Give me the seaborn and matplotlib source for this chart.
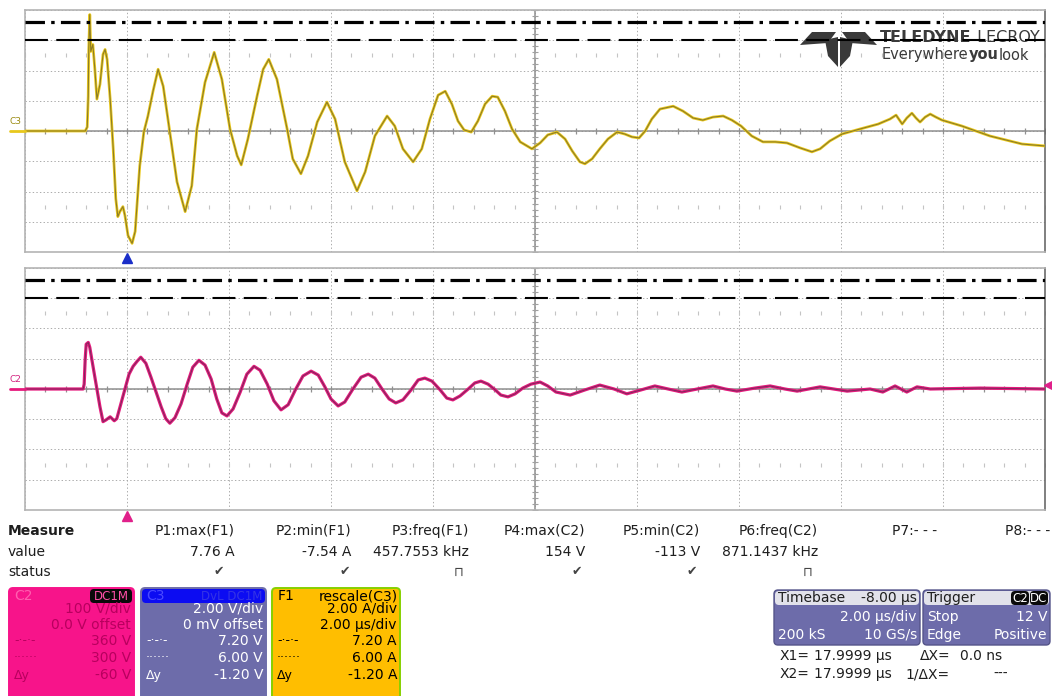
import matplotlib
matplotlib.use("Agg")
import matplotlib.pyplot as plt
import matplotlib.transforms as mtransforms
from matplotlib.patches import FancyBboxPatch, Polygon
import numpy as np
import seaborn as sns

# F1 = rescale(C3): current, time in us, amps
f1_time = [-2.00, -0.82, -0.78, -0.76, -0.75, -0.73, -0.71, -0.67, -0.63, -0.59,
           -0.53, -0.47, -0.43, -0.39, -0.33, -0.27, -0.22, -0.18, -0.14, -0.08,
           -0.04, 0.02, 0.10, 0.16, 0.25, 0.33, 0.41, 0.51, 0.61, 0.71,
           0.84, 0.98, 1.14, 1.27, 1.37, 1.53, 1.71, 1.86, 2.02, 2.16,
           2.24, 2.37, 2.55, 2.67, 2.78, 2.94, 3.14, 3.25, 3.41, 3.55,
           3.73, 3.92, 4.08, 4.27, 4.51, 4.67, 4.86, 5.10, 5.25, 5.41,
           5.61, 5.78, 5.94, 6.10, 6.24, 6.37, 6.49, 6.61, 6.75, 6.88,
           7.02, 7.16, 7.27, 7.41, 7.55, 7.71, 7.94, 8.10, 8.25, 8.43,
           8.59, 8.73, 8.88, 8.98, 9.12, 9.27, 9.43, 9.61, 9.76, 9.90,
           10.04, 10.16, 10.29, 10.45, 10.71, 10.90, 11.10, 11.29, 11.49, 11.69,
           11.86, 12.04, 12.25, 12.47, 12.71, 12.94, 13.20, 13.43, 13.59, 13.78,
           14.02, 14.37, 14.73, 14.96, 15.08, 15.20, 15.29, 15.39, 15.47, 15.55,
           15.65, 15.75, 15.86, 15.98, 16.37, 16.92, 17.55, 18.00]
f1_amps = [0.00, 0.00, 0.26, 2.30, 5.39, 7.70, 5.26, 5.72, 4.08, 2.11,
           3.09, 5.07, 5.39, 4.74, 2.11, -1.18, -4.47, -5.66, -5.33, -5.00,
           -5.59, -6.91, -7.43, -6.64, -2.30, -0.07, 0.99, 2.63, 4.08, 2.96,
           -0.07, -3.36, -5.33, -3.62, 0.13, 3.22, 5.20, 3.42, 0.13, -1.64,
           -2.24, -0.53, 2.30, 4.08, 4.74, 3.42, 0.13, -1.84, -2.83, -1.64,
           0.59, 1.91, 0.79, -2.04, -3.95, -2.70, -0.33, 0.99, 0.33, -1.18,
           -2.04, -1.18, 0.79, 2.37, 2.63, 1.78, 0.66, 0.07, -0.07, 0.66,
           1.78, 2.30, 2.24, 1.32, 0.13, -0.72, -1.18, -0.79, -0.26, -0.07,
           -0.53, -1.32, -2.04, -2.17, -1.84, -1.18, -0.53, -0.07, -0.20, -0.39,
           -0.46, 0.00, 0.79, 1.45, 1.64, 1.32, 0.86, 0.72, 0.92, 0.99,
           0.72, 0.33, -0.33, -0.72, -0.72, -0.79, -1.12, -1.38, -1.18, -0.66,
           -0.20, 0.13, 0.46, 0.79, 1.05, 0.46, 0.86, 1.18, 0.86, 0.59,
           0.92, 1.12, 0.92, 0.72, 0.33, -0.33, -0.86, -0.99]

# C2: voltage, time in us, volts
c2_time = [-2.00, -0.86, -0.84, -0.82, -0.80, -0.76, -0.73, -0.69, -0.63, -0.59,
           -0.53, -0.47, -0.41, -0.33, -0.25, -0.20, -0.12, -0.04, 0.04, 0.12,
           0.20, 0.27, 0.37, 0.47, 0.57, 0.67, 0.76, 0.84, 0.94, 1.06,
           1.18, 1.29, 1.41, 1.53, 1.65, 1.76, 1.86, 1.96, 2.08, 2.22,
           2.35, 2.49, 2.61, 2.75, 2.88, 3.02, 3.16, 3.31, 3.45, 3.61,
           3.75, 3.88, 4.00, 4.14, 4.27, 4.43, 4.59, 4.73, 4.86, 5.00,
           5.14, 5.27, 5.41, 5.57, 5.71, 5.84, 5.98, 6.14, 6.27, 6.39,
           6.53, 6.69, 6.82, 6.94, 7.08, 7.22, 7.33, 7.47, 7.61, 7.76,
           7.92, 8.10, 8.25, 8.41, 8.69, 8.98, 9.27, 9.55, 9.80, 10.08,
           10.35, 10.61, 10.88, 11.18, 11.49, 11.73, 11.96, 12.31, 12.61, 12.90,
           13.14, 13.59, 14.12, 14.57, 14.82, 15.06, 15.29, 15.49, 15.75, 16.73, 18.00]
c2_volts = [0, 0, 16, 98, 148, 154, 138, 98, 39, 0,
            -59, -108, -102, -92, -105, -98, -49, 0, 49, 75,
            92, 105, 85, 39, -10, -59, -98, -113, -95, -49,
            16, 72, 95, 79, 33, -33, -79, -89, -66, -10,
            49, 75, 62, 16, -39, -69, -52, 0, 43, 59,
            46, 7, -33, -56, -43, 0, 39, 49, 36, 0,
            -33, -46, -36, -3, 30, 36, 26, -3, -30, -36,
            -23, 0, 20, 26, 16, -3, -20, -26, -16, 3,
            16, 23, 10, -10, -20, -3, 13, 0, -16, -3,
            10, 0, -10, 0, 10, 0, -7, 3, 10, 0,
            -7, 7, -7, 0, -10, 10, -10, 7, 0, 3, 0]

f1_cursors = [7.20, 6.00]     # dash-dot, dashed
c2_cursors = [360, 300]
trigger_time = 0.0
trigger_level = 12

meas_names = ["P1:max(F1)", "P2:min(F1)", "P3:freq(F1)", "P4:max(C2)",
              "P5:min(C2)", "P6:freq(C2)", "P7:- - -", "P8:- - -"]
meas_values = ["7.76 A", "-7.54 A", "457.7553 kHz", "154 V",
               "-113 V", "871.1437 kHz", "", ""]
meas_status = ["\u2714", "\u2714", "\u2293", "\u2714", "\u2714", "\u2293", "", ""]

c2_rows = ["100 V/div", "0.0 V offset", "360 V", "300 V", "-60 V"]
c3_rows = ["2.00 V/div", "0 mV offset", "7.20 V", "6.00 V", "-1.20 V"]
f1_rows = ["2.00 A/div", "2.00 \u00b5s/div", "7.20 A", "6.00 A", "-1.20 A"]
row_tags = ["", "", "-\u00b7-\u00b7-", "\u00b7\u00b7\u00b7\u00b7\u00b7\u00b7", "\u0394y"]

sns.set_style("white")
plt.rcParams["font.family"] = ["DejaVu Sans"]
plt.rcParams["lines.scale_dashes"] = False

W, H = 1052, 696
fig = plt.figure(figsize=(W / 100, H / 100), dpi=100)

# pixel overlay for the readout area
ov = fig.add_axes([0, 0, 1, 1], zorder=5)
ov.set_xlim(0, W)
ov.set_ylim(H, 0)
ov.axis("off")


def panel(top, bottom):
    return fig.add_axes([25 / W, 1 - bottom / H, 1020 / W, (bottom - top) / H])


def graticule(ax, ydiv):
    ymax = 4 * ydiv
    ax.set_xlim(-2, 18)
    ax.set_ylim(-ymax, ymax)
    ax.set_xticks(np.arange(-2, 18.1, 2))
    ax.set_yticks(np.arange(-ymax, ymax + 0.1 * ydiv, ydiv))
    ax.tick_params(length=0, labelbottom=False, labelleft=False)
    ax.grid(True, color="#ababab", lw=0.7, ls=(0, (1, 1.6)))
    ax.axvline(8, color="#909090", lw=1.1)
    ax.axhline(0, color="#909090", lw=1.1)
    sub = np.arange(-2, 18.01, 0.4)
    ax.plot(sub, np.zeros_like(sub), ls="none", marker="|", ms=5, mew=0.9, color="#909090")
    ysub = np.arange(-ymax, ymax + 0.01, ydiv / 5)
    ax.plot(np.full_like(ysub, 8.0), ysub, ls="none", marker="_", ms=4, mew=0.8, color="#a0a0a0")
    for yy in (-2.5 * ydiv, 2.5 * ydiv):
        ax.plot(sub, np.full_like(sub, yy), ls="none", marker="|", ms=2.5, mew=0.8, color="#c4c4c4")
    for sp in ax.spines.values():
        sp.set_color("#b4b4b4")
        sp.set_linewidth(1.2)
    ax.spines["right"].set_color("#6a6a6a")


def cursors(ax, levels):
    ax.axhline(levels[0], color="black", lw=2.3, dashes=(14, 4.5, 2.5, 4.5), zorder=4)
    ax.axhline(levels[1], color="black", lw=1.5, dashes=(16.5, 6), zorder=4)


ax1 = panel(10, 252)
ax2 = panel(268, 510)
graticule(ax1, 2.0)
graticule(ax2, 100)
cursors(ax1, f1_cursors)
cursors(ax2, c2_cursors)

sns.lineplot(x=f1_time, y=f1_amps, ax=ax1, color="#ecca1e", lw=2.0, sort=False, estimator=None, zorder=3)
sns.lineplot(x=f1_time, y=f1_amps, ax=ax1, color="#8c7c26", lw=0.8, sort=False, estimator=None, zorder=3)
sns.lineplot(x=c2_time, y=c2_volts, ax=ax2, color="#e51a7c", lw=2.3, sort=False, estimator=None, zorder=3)
sns.lineplot(x=c2_time, y=c2_volts, ax=ax2, color="#7a2a5c", lw=0.7, sort=False, estimator=None, zorder=3)
for ax in (ax1, ax2):
    ax.set_xlabel("")
    ax.set_ylabel("")

# ground markers and channel tags on the left
for ax, col, txt, tcol in ((ax1, "#e8c81c", "C3", "#9a8a10"), (ax2, "#e6197c", "C2", "#d2207e")):
    tr = mtransforms.blended_transform_factory(ov.transData, ax.transData)
    ov.plot([10, 25], [0, 0], color=col, lw=2.0, transform=tr, clip_on=False)
    ov.annotate(txt, xy=(9, 0), xycoords=tr, xytext=(0, 7), textcoords="offset points",
                fontsize=6.5, color=tcol, va="center")

# trigger markers
tr1 = mtransforms.blended_transform_factory(ax1.transData, ov.transData)
ov.plot([trigger_time], [258], marker="^", ms=7, color="#1a2ec8", transform=tr1, clip_on=False)
tr2 = mtransforms.blended_transform_factory(ax2.transData, ov.transData)
ov.plot([trigger_time], [516], marker="^", ms=7, color="#e0208a", transform=tr2, clip_on=False)
tr3 = mtransforms.blended_transform_factory(ov.transData, ax2.transData)
ov.plot([1048], [trigger_level], marker="<", ms=6, color="#e0208a", transform=tr3, clip_on=False)

# logo (drawn inside the top panel, under the cursor lines)
logo = "#3a3a3a"
for pts in ([(800, 45), (812, 32), (836, 32), (828, 43)],
            [(877, 45), (865, 32), (842, 32), (850, 43)],
            [(825, 40), (838, 37), (838, 67), (828, 56)],
            [(853, 40), (840, 37), (840, 67), (850, 56)]):
    ax1.add_patch(Polygon(pts, closed=True, fc=logo, ec="none", transform=ov.transData,
                          clip_on=False, zorder=3.5))
renderer = fig.canvas.get_renderer()


def run_text(ax, x, y, parts, size):
    for s, w in parts:
        t = ax.text(x, y, s, transform=ov.transData, fontsize=size, fontweight=w,
                    color=logo, va="center", ha="left", zorder=3.5)
        x = ov.transData.inverted().transform((t.get_window_extent(renderer).x1, 0))[0]


run_text(ax1, 880, 37, [("TELEDYNE", "bold"), (" LECROY", "normal")], 11.5)
run_text(ax1, 882, 55, [("Everywhere", "normal"), ("you", "bold"), ("look", "normal")], 10.5)

# measurement table
ink = "#1e1e1e"
fs = 10
col_right = [235, 351, 469, 585, 700, 818, 937, 1050]
stat_x = [219, 345, 459, 577, 692, 808, 0, 0]
ov.text(8, 531, "Measure", fontsize=fs, fontweight="bold", color=ink, va="center")
ov.text(8, 552, "value", fontsize=fs, color=ink, va="center")
ov.text(8, 572, "status", fontsize=fs, color=ink, va="center")
for name, val, st, xr, xs in zip(meas_names, meas_values, meas_status, col_right, stat_x):
    ov.text(xr, 531, name, fontsize=fs, color=ink, ha="right", va="center")
    ov.text(xr, 552, val, fontsize=fs, color=ink, ha="right", va="center")
    if st:
        ov.text(xs, 572, st, fontsize=9, color="#444444", ha="center", va="center")

row_y = [609, 625, 641, 658, 675]


def box(x0, x1, y0, y1, fc, ec="none", lw=1.0):
    ov.add_patch(FancyBboxPatch((x0, y0), x1 - x0, y1 - y0, boxstyle="round,pad=0,rounding_size=4",
                                fc=fc, ec=ec, lw=lw, clip_on=False))


def badge(x0, x1, y, label, tc):
    box(x0, x1, y - 7, y + 7, "#0a0a0a")
    ov.text((x0 + x1) / 2, y, label, fontsize=8.5, color=tc, ha="center", va="center")


def chan_box(x0, x1, fc, ec, tc, rows):
    box(x0, x1, 588, 712, fc, ec, 1.4)
    for r, tag, y in zip(rows, row_tags, row_y):
        ov.text(x1 - 3, y, r, fontsize=fs, color=tc, ha="right", va="center")
        if tag:
            ov.text(x0 + 5, y, tag, fontsize=fs - 1, color=tc, ha="left", va="center")


chan_box(9, 134, "#f7148a", "#f7148a", "#b8005e", c2_rows)
ov.text(14, 596, "C2", fontsize=fs, color="#ff5fb0", va="center")
badge(90, 132, 596, "DC1M", "#ff4fa8")

chan_box(141, 266, "#6d6caa", "#6d6caa", "white", c3_rows)
box(142, 265, 589, 603, "#0c0cf2")
ov.text(146, 596, "C3", fontsize=fs, color="#4a4aff", va="center")
ov.text(262, 596, "DvL DC1M", fontsize=8.5, color="#3434e6", ha="right", va="center")

chan_box(272, 400, "#ffbe00", "#86d000", "black", f1_rows)
ov.text(278, 596, "F1", fontsize=fs, color="black", va="center")
ov.text(398, 596, "rescale(C3)", fontsize=fs, color="black", ha="right", va="center")

# timebase and trigger
box(774, 920, 590, 645, "#6d6caa", "#55558a", 1.0)
box(775, 919, 591, 605, "#e2e2ea")
ov.text(778, 598, "Timebase", fontsize=fs, color=ink, va="center")
ov.text(917, 598, "-8.00 \u00b5s", fontsize=fs, color=ink, ha="right", va="center")
ov.text(917, 617, "2.00 \u00b5s/div", fontsize=fs, color="white", ha="right", va="center")
ov.text(778, 635, "200 kS", fontsize=fs, color="white", va="center")
ov.text(917, 635, "10 GS/s", fontsize=fs, color="white", ha="right", va="center")

box(923, 1050, 590, 645, "#6d6caa", "#55558a", 1.0)
box(924, 1049, 591, 605, "#e2e2ea")
ov.text(927, 598, "Trigger", fontsize=fs, color=ink, va="center")
badge(1011, 1029, 598, "C2", "white")
badge(1030, 1048, 598, "DC", "white")
ov.text(927, 617, "Stop", fontsize=fs, color="white", va="center")
ov.text(1047, 617, "12 V", fontsize=fs, color="white", ha="right", va="center")
ov.text(927, 635, "Edge", fontsize=fs, color="white", va="center")
ov.text(1047, 635, "Positive", fontsize=fs, color="white", ha="right", va="center")

ov.text(780, 656, "X1=", fontsize=fs, color=ink, va="center")
ov.text(814, 656, "17.9999 \u00b5s", fontsize=fs, color=ink, va="center")
ov.text(920, 656, "\u0394X=", fontsize=fs, color=ink, va="center")
ov.text(960, 656, "0.0 ns", fontsize=fs, color=ink, va="center")
ov.text(780, 674, "X2=", fontsize=fs, color=ink, va="center")
ov.text(814, 674, "17.9999 \u00b5s", fontsize=fs, color=ink, va="center")
ov.text(905, 674, "1/\u0394X=", fontsize=fs, color=ink, va="center")
ov.text(993, 674, "---", fontsize=fs, color=ink, va="center")

fig.savefig("out.png", dpi=100, facecolor="white")
